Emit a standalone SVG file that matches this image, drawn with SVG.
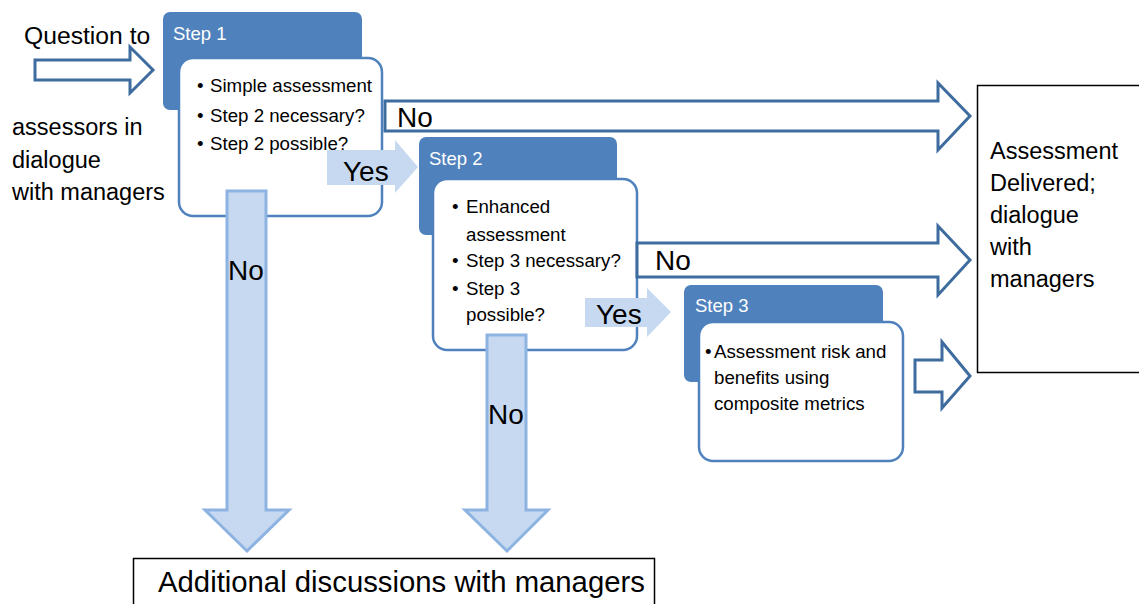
<svg xmlns="http://www.w3.org/2000/svg" width="1139" height="604" viewBox="0 0 1139 604">
<style>
text{font-family:"Liberation Sans",Arial,sans-serif;fill:#000}
.dark{fill:#4f81bd}
.card{fill:#fff;stroke:#4f81bd;stroke-width:2.5}
.hd{fill:#fff;font-size:18.5px}
.bl{font-size:18.7px}
.big{font-size:23.5px}
.lbl{font-size:28px}
.hollow{fill:#fff;stroke:#3f6c9f;stroke-width:3;stroke-linejoin:miter}
.yes{fill:#c6d9f1}
.down{fill:#c6d9f1;stroke:#8db3e2;stroke-width:3}
.box{fill:#fff;stroke:#000;stroke-width:1.5}
</style>
<rect width="1139" height="604" fill="#fff"/>

<g id="input">
  <text x="24" y="44" style="font-size:24.7px">Question to</text>
  <text class="big" x="12" y="135">assessors in</text>
  <text class="big" x="12" y="168">dialogue</text>
  <text class="big" x="12" y="200">with managers</text>
</g>

<g id="step1">
  <rect class="dark" x="163" y="12" width="199" height="98" rx="7"/>
  <text class="hd" x="173" y="40">Step 1</text>
  <rect class="card" x="179" y="58" width="203" height="158" rx="14"/>
  <text class="bl" x="197" y="92">•</text><text class="bl" x="210" y="92">Simple assessment</text>
  <text class="bl" x="197" y="122">•</text><text class="bl" x="210" y="122">Step 2 necessary?</text>
  <text class="bl" x="197" y="150">•</text><text class="bl" x="210" y="150">Step 2 possible?</text>
</g>

<g id="step2">
  <rect class="dark" x="419" y="137" width="198" height="98" rx="7"/>
  <text class="hd" x="429" y="165">Step 2</text>
  <rect class="card" x="433" y="179" width="204" height="171" rx="14"/>
  <text class="bl" x="452" y="213">•</text><text class="bl" x="466" y="213">Enhanced</text>
  <text class="bl" x="466" y="241">assessment</text>
  <text class="bl" x="452" y="267">•</text><text class="bl" x="466" y="267">Step 3 necessary?</text>
  <text class="bl" x="452" y="295">•</text><text class="bl" x="466" y="295">Step 3</text>
  <text class="bl" x="466" y="321">possible?</text>
</g>

<g id="step3">
  <rect class="dark" x="684" y="285" width="199" height="97" rx="7"/>
  <text class="hd" x="695" y="312">Step 3</text>
  <rect class="card" x="699" y="322" width="204" height="139" rx="14"/>
  <text class="bl" x="705" y="358">•</text><text class="bl" x="714" y="358">Assessment risk and</text>
  <text class="bl" x="714" y="384">benefits using</text>
  <text class="bl" x="714" y="410">composite metrics</text>
</g>

<g id="delivered">
  <rect class="box" x="977.5" y="85.5" width="170" height="287"/>
  <text class="big" x="990" y="159">Assessment</text>
  <text class="big" x="990" y="191">Delivered;</text>
  <text class="big" x="990" y="223">dialogue</text>
  <text class="big" x="990" y="255">with</text>
  <text class="big" x="990" y="287">managers</text>
</g>

<g id="additional">
  <rect class="box" x="133.5" y="558.5" width="521" height="60"/>
  <text x="158" y="592" style="font-size:29.3px">Additional discussions with managers</text>
</g>

<g id="connectors">
  <polygon class="hollow" points="35,60 130,60 130,47 153,70 130,93 130,80 35,80"/>
  <polygon class="hollow" points="385,101 938,101 938,83 970,116 938,150 938,131 385,131"/>
  <polygon class="hollow" points="637,243 938,243 938,226 970,260 938,295 938,277 637,277"/>
  <polygon class="hollow" points="915,360 942,360 942,342 970,376 942,408 942,392 915,392"/>
  <polygon class="yes" points="327,150 395,150 395,140 418,167 395,193 395,185 327,185"/>
  <polygon class="yes" points="585,298 647,298 647,288 671,312 647,337 647,327 585,327"/>
  <polygon class="down" points="227,191 266,191 266,510 289,510 247,551 205,510 227,510"/>
  <polygon class="down" points="487,335 526,335 526,510 548,510 507,551 465,510 487,510"/>
  <text class="lbl" x="397" y="127">No</text>
  <text class="lbl" x="655" y="270">No</text>
  <text class="lbl" x="228" y="280">No</text>
  <text class="lbl" x="488" y="424">No</text>
  <text class="lbl" x="343" y="181">Yes</text>
  <text class="lbl" x="596" y="324">Yes</text>
</g>
</svg>
